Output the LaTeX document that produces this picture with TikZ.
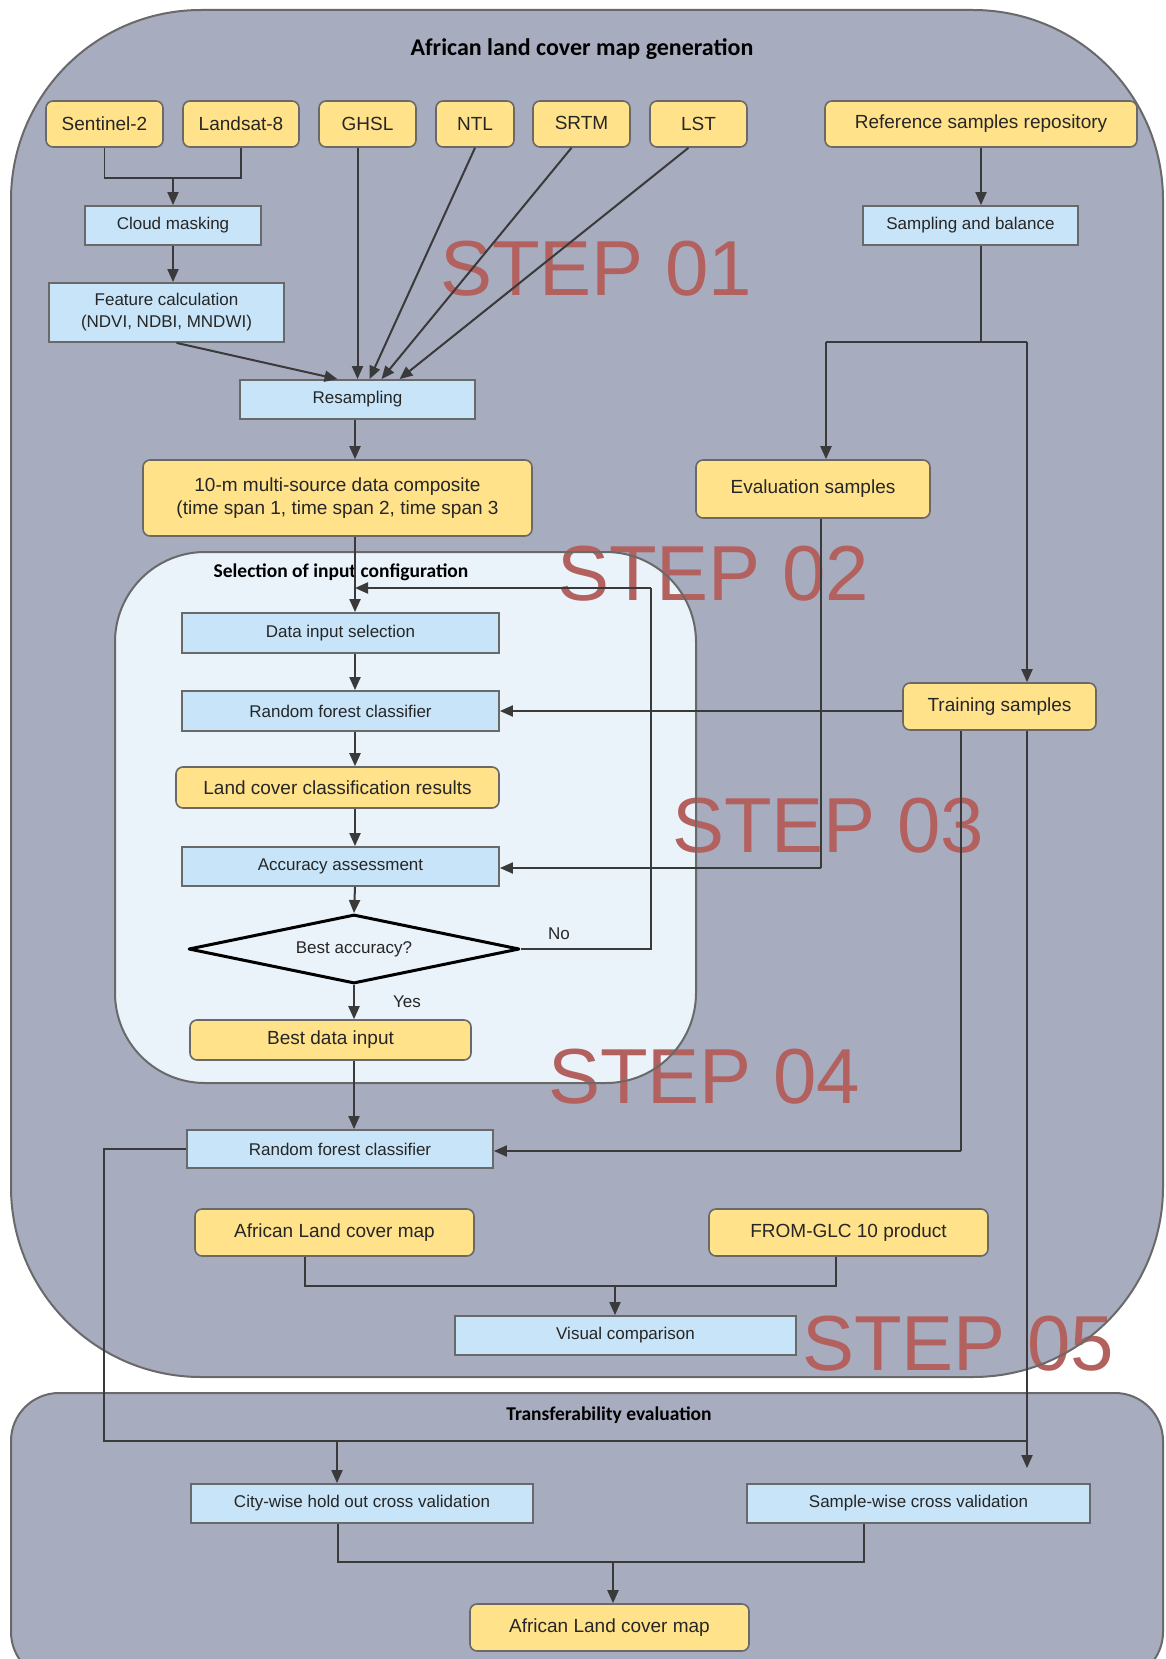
\documentclass[tikz,border=0pt]{standalone}
\usepackage{fontspec}
\setmainfont{Liberation Sans}
\newfontfamily\titlefont{Carlito}
\usepackage{tikz}
\usetikzlibrary{arrows.meta,shapes.geometric,positioning}

\definecolor{panel}{RGB}{168,172,191}
\definecolor{innerpanel}{RGB}{234,242,250}
\definecolor{yfill}{RGB}{255,226,138}
\definecolor{bfill}{RGB}{199,228,248}
\definecolor{steptext}{RGB}{178,97,94}
\definecolor{wire}{RGB}{58,58,58}
\definecolor{rim}{RGB}{105,105,105}

\tikzset{sz/.style 2 args={minimum width=#1pt, minimum height=#2pt}}

\begin{document}
\begin{tikzpicture}[x=1pt, y=-1pt, >={Triangle[length=13pt,width=11pt]},
    every node/.style={inner sep=0pt, align=center, text=black!85},
    yel/.style={draw=rim, fill=yfill, line width=1.6pt, rounded corners=7pt,
      font=\fontsize{19}{23}\selectfont},
    blu/.style={draw=rim, fill=bfill, line width=1.8pt,
      font=\fontsize{17}{22}\selectfont},
    arr/.style={->, color=wire, line width=2pt},
    wirethin/.style={draw=wire, line width=1.2pt},
    steplbl/.style={anchor=base west, text=steptext, font=\fontsize{78}{78}\selectfont},
    ttl/.style={text=black, font=\titlefont\bfseries\fontsize{19.5}{22}\selectfont}]

  \useasboundingbox (0,0) rectangle (1165,1659);

  % panels
  \fill[panel, rounded corners=190pt] (11,10) rectangle (1163,1377);
  \fill[panel, rounded corners=48pt] (11,1393) rectangle (1163,1680);
  \fill[innerpanel, rounded corners=90pt] (115,552) rectangle (696,1083);

  \node[steplbl] (s1) at (440,295) {STEP 01};
  \node[steplbl] (s2) at (557,600) {STEP 02};
  \node[steplbl] (s3) at (672,852) {STEP 03};
  \node[steplbl] (s4) at (548,1103) {STEP 04};
  \node[steplbl] (s5) at (802,1370) {STEP 05};

  \draw[rim, line width=2pt, rounded corners=190pt] (11,10) rectangle (1163,1377);
  \draw[rim, line width=2pt, rounded corners=48pt] (11,1393) rectangle (1163,1680);
  \draw[rim, line width=2pt, rounded corners=90pt] (115,552) rectangle (696,1083);

  \node[ttl, font=\titlefont\bfseries\fontsize{24}{27}\selectfont] (t1) at (582,49) {African land cover map generation};
  \node[ttl] (t2) at (341,572) {Selection of input configuration};
  \node[ttl] (t3) at (609,1415) {Transferability evaluation};

  % data sources
  \node[yel, sz={117}{46}] (sen)  at (104.5,124) {Sentinel-2};
  \node[yel, sz={116}{46}] (lan)  at (241,124)   {Landsat-8};
  \node[yel, sz={97}{46}]  (ghsl) at (367.5,124) {GHSL};
  \node[yel, sz={78}{46}]  (ntl)  at (475,124)   {NTL};
  \node[yel, sz={97}{46}]  (srtm) at (581.5,124) {\raisebox{3pt}{SRTM}};
  \node[yel, sz={97}{46}]  (lst)  at (698.5,124) {LST};
  \node[yel, sz={312}{46}] (ref)  at (981,124)   {Reference samples repository};

  \node[blu, sz={176}{39}] (cloud)  at (173,225.5)   {Cloud masking};
  \node[blu, sz={235}{59}] (feat)   at (166.5,312.5) {Feature calculation\\(NDVI, NDBI, MNDWI)};
  \node[blu, sz={235}{39}] (resamp) at (357.5,399.5) {Resampling};
  \node[blu, sz={215}{39}] (samp)   at (970.5,225.5) {Sampling and balance};

  \node[yel, sz={389}{76}] (comp)  at (337.5,498)   {10-m multi-source data composite\\(time span 1, time span 2, time span 3};
  \node[yel, sz={234}{58}] (eval)  at (813,489)     {Evaluation samples};
  \node[yel, sz={193}{47}] (train) at (999.5,706.5) {Training samples};

  % input configuration loop
  \node[blu, sz={317}{40}] (dis)  at (340.5,633)   {Data input selection};
  \node[blu, sz={317}{40}] (rf1)  at (340.5,711)   {Random forest classifier};
  \node[yel, sz={323}{41}] (lccr) at (337.5,787.5) {Land cover classification results};
  \node[blu, sz={317}{39}] (acc)  at (340.5,866.5) {Accuracy assessment};
  \node[diamond, aspect=4.8, draw=black, line width=3pt, line join=round, sz={331}{69},
        font=\fontsize{17}{20}\selectfont] (best) at (354,949) {Best accuracy?};
  \node[font=\fontsize{17}{20}\selectfont] (no)  at (559,934)  {No};
  \node[font=\fontsize{17}{20}\selectfont] (yes) at (407,1002) {Yes};
  \node[yel, sz={281}{40}] (bdi)  at (330.5,1040)  {Best data input};

  \node[blu, sz={306}{38}] (rf2)   at (340,1149)     {Random forest classifier};
  \node[yel, sz={279}{47}] (alcm)  at (334.5,1232.5) {African Land cover map};
  \node[yel, sz={279}{47}] (glc)   at (848.5,1232.5) {FROM-GLC 10 product};
  \node[blu, sz={341}{39}] (vis)   at (625.5,1335.5) {Visual comparison};
  \node[blu, sz={342}{39}] (city)  at (362,1503.5)   {City-wise hold out cross validation};
  \node[blu, sz={343}{39}] (swcv)  at (918.5,1503.5) {Sample-wise cross validation};
  \node[yel, sz={279}{47}] (final) at (609.5,1627.5) {African Land cover map};

  \coordinate (spine) at (355,0);
  \coordinate (j1) at (173,178);
  \coordinate (split) at (981,342);
  \coordinate (sl) at (826,342);
  \coordinate (sr) at (1027,342);
  \coordinate (loop) at (651,588);
  \coordinate (ev) at (821,868);
  \coordinate (tl) at (961,1151);
  \coordinate (lft) at (104,1441);
  \coordinate (cw) at (337,1441);
  \coordinate (m1) at (615,1286);
  \coordinate (m2) at (613,1562);

  % step 01
  \draw[wirethin] (sen.south) |- (j1) -| (lan.south);
  \path[arr]
    (j1) edge (cloud)
    (cloud) edge (cloud.south |- feat.north)
    ([xshift=10pt]feat.south) edge ([xshift=-20pt]resamp.north)
    ([xshift=-10pt]ghsl.south) edge (resamp.north)
    (ntl.south) edge ([xshift=12pt]resamp.north)
    ([xshift=-10pt]srtm.south) edge ([xshift=24pt]resamp.north)
    ([xshift=-10pt]lst.south) edge ([xshift=42pt]resamp.north)
    (ref) edge (ref.south |- samp.north)
    (resamp.south -| spine) edge (comp.north -| spine);
  \draw[wirethin] (ref.south |- samp.south) -- (split);
  \draw[wire, line width=1.8pt] (sl) -- (sr);
  \path[arr]
    (sl) edge (sl |- eval.north)
    (sr) edge (sr |- train.north);

  % step 02 and 03
  \path[arr]
    (comp.south -| spine) edge (dis.north -| spine)
    (dis.south -| spine) edge (rf1.north -| spine)
    (rf1.south -| spine) edge (lccr.north -| spine)
    (lccr.south -| spine) edge (acc.north -| spine)
    (acc.south -| spine) edge (best.north)
    (best.south) edge (best.south |- bdi.north)
    (train.west |- rf1.east) edge (rf1.east);
  \draw[wirethin] (best.east) -| (loop);
  \path[arr] (loop) edge (loop -| spine);
  \draw[wirethin] (eval.south -| ev) -- (ev);
  \path[arr] (ev) edge (acc.east |- ev);

  % step 04
  \path[arr] (best.south |- bdi.south) edge (best.south |- rf2.north);
  \draw[wirethin] (train.south -| tl) -- (tl);
  \path[arr] (tl) edge (rf2.east |- tl);

  % step 05
  \draw[wirethin] ([xshift=-29.5pt]alcm.south) |- (m1) -| ([xshift=-12.5pt]glc.south);
  \path[arr] (m1) edge (m1 |- vis.north);
  \draw[wirethin] (rf2.west) -| (lft) -- (lft -| sr);
  \path[arr]
    (train.south -| sr) edge[shorten >=15pt] (sr |- swcv.north)
    (cw) edge (cw |- city.north);
  \draw[wirethin] ([xshift=-24pt]city.south) |- (m2) -| ([xshift=-54.5pt]swcv.south);
  \path[arr] (m2) edge (m2 |- final.north);
\end{tikzpicture}
\end{document}
